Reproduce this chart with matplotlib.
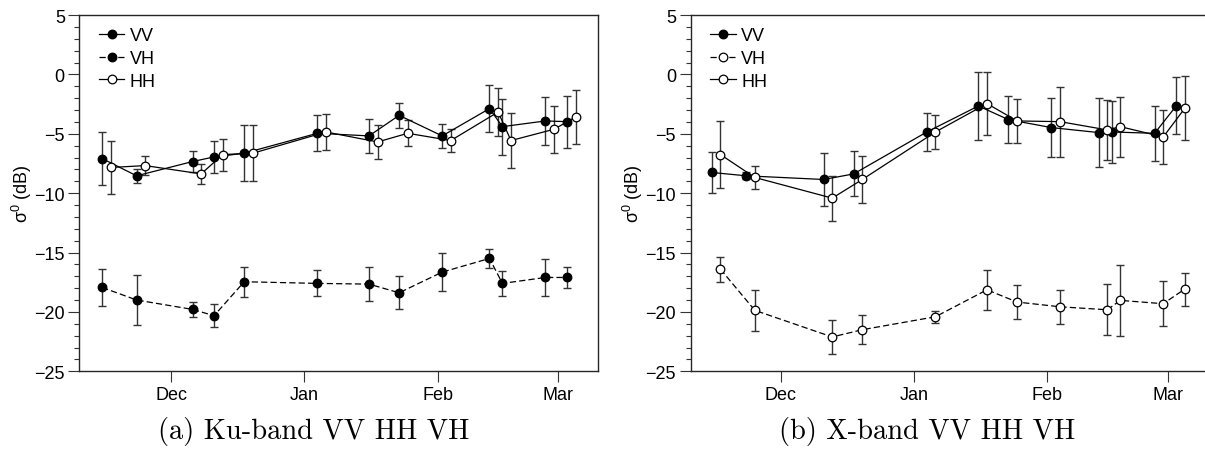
import matplotlib
matplotlib.use('Agg')
import matplotlib.pyplot as plt
import matplotlib.dates as mdates
from matplotlib.ticker import MultipleLocator
from datetime import datetime

# acquisition dates (Ku-band VV/VH; HH plotted 2 days later)
ku_dates = ['2013-11-15', '2013-11-23', '2013-12-06', '2013-12-11', '2013-12-18',
            '2014-01-04', '2014-01-16', '2014-01-23', '2014-02-02', '2014-02-13',
            '2014-02-16', '2014-02-26', '2014-03-03']
ku_dates_hh = ['2013-11-17', '2013-11-25', '2013-12-08', '2013-12-13', '2013-12-20',
               '2014-01-06', '2014-01-18', '2014-01-25', '2014-02-04', '2014-02-15',
               '2014-02-18', '2014-02-28', '2014-03-05']

ku_vv = [-7.09, -8.54, -7.34, -6.95, -6.64, -4.96, -5.18, -3.45, -5.18, -2.88, -4.4, -3.92, -3.98]
ku_vv_err = [2.2, 0.6, 0.85, 1.35, 2.35, 1.5, 1.45, 1.05, 1.0, 2.0, 2.35, 2.0, 2.2]
ku_hh = [-7.84, -7.68, -8.38, -6.75, -6.64, -4.85, -5.69, -4.96, -5.57, -3.17, -5.57, -4.62, -3.59]
ku_hh_err = [2.2, 0.77, 0.82, 1.35, 2.35, 1.5, 1.45, 1.1, 1.0, 2.0, 2.3, 2.0, 2.25]
ku_vh = [-17.94, -19.0, -19.79, -20.32, -17.46, -17.6, -17.66, -18.39, -16.65, -15.5, -17.6, -17.1, -17.1]
ku_vh_err = [1.55, 2.1, 0.6, 0.95, 1.25, 1.1, 1.45, 1.4, 1.6, 0.8, 1.08, 1.58, 0.9]

# X-band (no Dec 6 acquisition)
x_dates = ['2013-11-15', '2013-11-23', '2013-12-11', '2013-12-18', '2014-01-04',
           '2014-01-16', '2014-01-23', '2014-02-02', '2014-02-13', '2014-02-16',
           '2014-02-26', '2014-03-03']
x_dates_hh = ['2013-11-17', '2013-11-25', '2013-12-13', '2013-12-20', '2014-01-06',
              '2014-01-18', '2014-01-25', '2014-02-04', '2014-02-15', '2014-02-18',
              '2014-02-28', '2014-03-05']

x_vv = [-8.26, -8.54, -8.85, -8.38, -4.85, -2.66, -3.81, -4.48, -4.9, -4.85, -4.96, -2.66]
x_vv_err = [1.73, 0.3, 2.2, 1.9, 1.6, 2.9, 1.95, 2.5, 2.9, 2.6, 2.3, 2.4]
x_hh = [-6.75, -8.68, -10.42, -8.85, -4.85, -2.46, -3.92, -3.98, -4.68, -4.4, -5.27, -2.86]
x_hh_err = [2.8, 1.0, 1.9, 1.95, 1.47, 2.67, 1.88, 2.94, 2.52, 2.52, 2.24, 2.7]
x_vh = [-16.4, -19.87, -22.11, -21.5, -20.41, -18.14, -19.17, -19.57, -19.82, -19.03, -19.31, -18.08]
x_vh_err = [1.05, 1.72, 1.44, 1.23, 0.5, 1.67, 1.43, 1.42, 2.14, 3.0, 1.9, 1.39]

captions = ['(a) Ku-band VV HH VH', '(b) X-band VV HH VH']

plt.rcParams['font.family'] = ['Liberation Sans', 'DejaVu Sans']
plt.rcParams['font.size'] = 13


def to_dt(lst):
    return [datetime.strptime(s, '%Y-%m-%d') for s in lst]


def series(ax, d, y, e, filled, dashed, label):
    ls = (0, (5, 2.5)) if dashed else '-'
    ax.errorbar(to_dt(d), y, yerr=e, fmt='none', ecolor='0.2', elinewidth=1.0,
                capsize=2.8, capthick=1.0, zorder=2)
    ax.plot(to_dt(d), y, color='black', lw=0.9, ls=ls, marker='o', ms=6.2,
            mfc='black' if filled else 'white', mec='black', mew=0.9,
            label=label, zorder=3)


fig = plt.figure(figsize=(12.05, 4.6), dpi=100)
ax1 = fig.add_axes([0.0659, 0.1907, 0.4305, 0.7745])
ax2 = fig.add_axes([0.5732, 0.1907, 0.4305, 0.7745])

series(ax1, ku_dates, ku_vv, ku_vv_err, True, False, 'VV')
series(ax1, ku_dates, ku_vh, ku_vh_err, True, True, 'VH')
series(ax1, ku_dates_hh, ku_hh, ku_hh_err, False, False, 'HH')

series(ax2, x_dates, x_vv, x_vv_err, True, False, 'VV')
series(ax2, x_dates_hh, x_vh, x_vh_err, False, True, 'VH')
series(ax2, x_dates_hh, x_hh, x_hh_err, False, False, 'HH')

xlims = [(datetime(2013, 11, 9, 17), datetime(2014, 3, 10, 6)),
         (datetime(2013, 11, 10, 2), datetime(2014, 3, 10, 18))]

for ax, xl in zip([ax1, ax2], xlims):
    ax.set_xlim(*xl)
    ax.set_ylim(-25, 5)
    ax.yaxis.set_major_locator(MultipleLocator(5))
    ax.yaxis.set_minor_locator(MultipleLocator(1))
    ax.xaxis.set_major_locator(mdates.MonthLocator(bymonth=[12, 1, 2, 3]))
    ax.xaxis.set_major_formatter(mdates.DateFormatter('%b'))
    ax.tick_params(axis='both', which='major', direction='out', length=8, width=0.8,
                   pad=2.5, labelsize=13, color='0.2')
    ax.tick_params(axis='y', which='minor', direction='out', length=3.6, width=0.8, color='0.2')
    for sp in ax.spines.values():
        sp.set_linewidth(1.0)
        sp.set_color('0.15')
    ax.set_ylabel('$\\mathregular{σ^0}$ (dB)', fontsize=13, labelpad=0)
    ax.legend(loc='upper left', frameon=False, fontsize=13, handlelength=1.4,
              handletextpad=0.3, labelspacing=0.32, borderaxespad=0, borderpad=0,
              bbox_to_anchor=(0.038, 0.966))

fig.text(0.2606, 0.045, captions[0], family='cmr10', fontsize=20.5, ha='center', va='baseline')
fig.text(0.7693, 0.045, captions[1], family='cmr10', fontsize=20.5, ha='center', va='baseline')

fig.savefig('out.png', dpi=100)
